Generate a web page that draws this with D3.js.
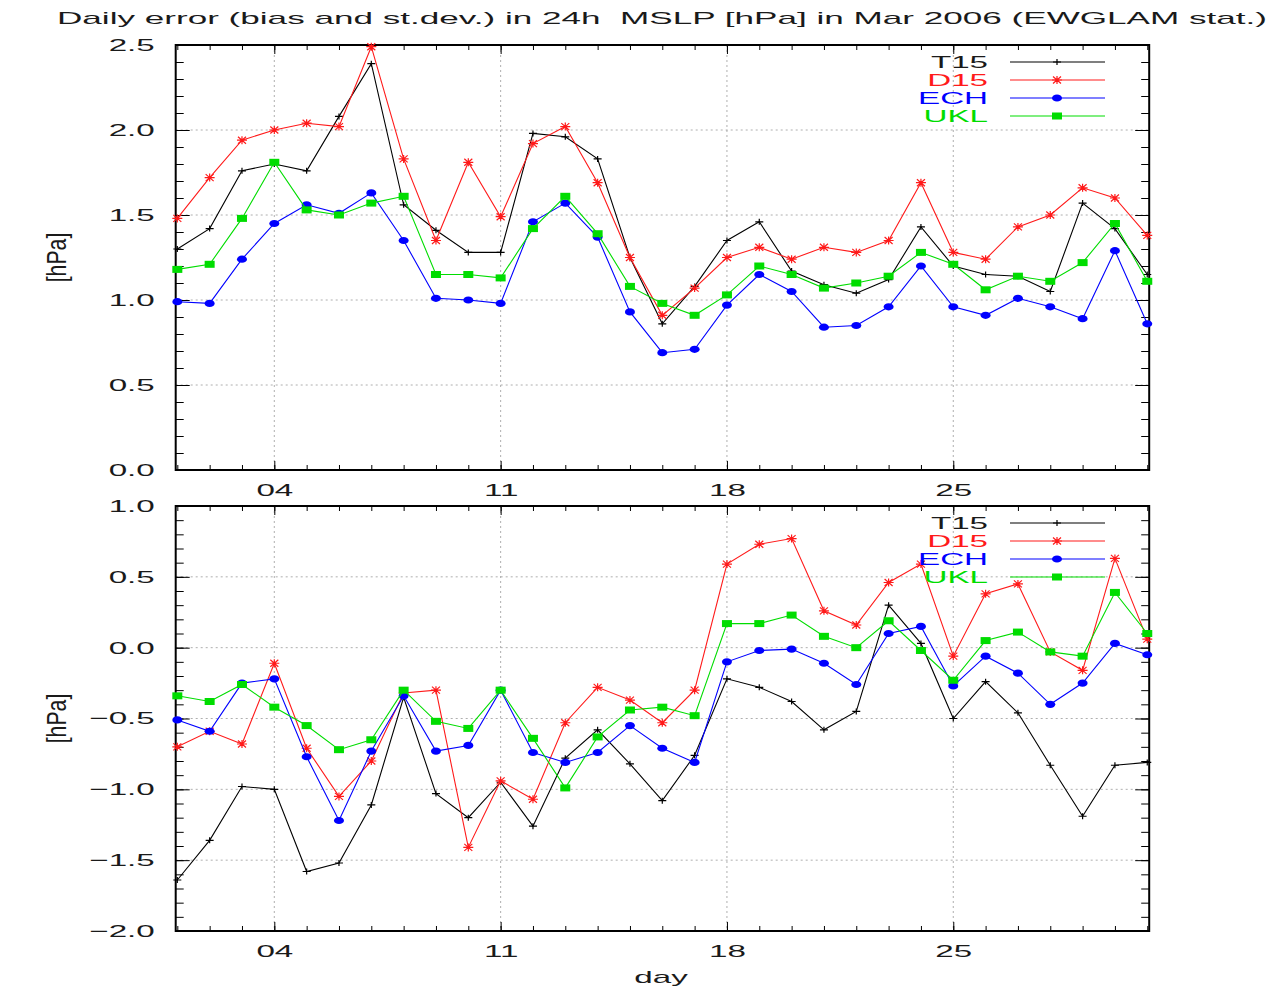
<!DOCTYPE html>
<html>
<head>
<meta charset="utf-8">
<script src="https://cdn.jsdelivr.net/npm/d3@7"></script>
<style>
  body { margin: 0; background: #fff; }
  text { font-family: "Liberation Sans", Arial, sans-serif; white-space: pre; }
</style>
</head>
<body>
<svg id="chart" width="1277" height="991"></svg>
<script>
// day of month on the x axis
const days = [1,2,3,4,5,6,7,8,9,10,11,12,13,14,15,16,17,18,19,20,21,22,23,24,25,26,27,28,29,30,31]
const labelDays = [4, 11, 18, 25]

const seriesNames = ["T15", "D15", "ECH", "UKL"]
const seriesColors = ["#000000", "#ff1a1a", "#0000ff", "#00dd00"]
const seriesMarks = ["plus", "star", "circle", "square"]

// upper panel: st.dev. [hPa]
const t15Std = [1.30,1.42,1.76,1.80,1.76,2.08,2.39,1.56,1.41,1.28,1.28,1.98,1.96,1.83,1.25,0.86,1.08,1.35,1.46,1.17,1.09,1.04,1.12,1.43,1.20,1.15,1.14,1.05,1.57,1.42,1.15]
const d15Std = [1.48,1.72,1.94,2.00,2.04,2.02,2.49,1.83,1.35,1.81,1.49,1.92,2.02,1.69,1.25,0.91,1.07,1.25,1.31,1.24,1.31,1.28,1.35,1.69,1.28,1.24,1.43,1.50,1.66,1.60,1.38]
const echStd = [0.99,0.98,1.24,1.45,1.56,1.51,1.63,1.35,1.01,1.00,0.98,1.46,1.57,1.37,0.93,0.69,0.71,0.97,1.15,1.05,0.84,0.85,0.96,1.20,0.96,0.91,1.01,0.96,0.89,1.29,0.86]
const uklStd = [1.18,1.21,1.48,1.81,1.53,1.50,1.57,1.61,1.15,1.15,1.13,1.42,1.61,1.39,1.08,0.98,0.91,1.03,1.20,1.15,1.07,1.10,1.14,1.28,1.21,1.06,1.14,1.11,1.22,1.45,1.11]

// lower panel: bias [hPa]
const t15Bias = [-1.64,-1.36,-0.98,-1.00,-1.58,-1.52,-1.11,-0.35,-1.03,-1.20,-0.95,-1.26,-0.78,-0.58,-0.82,-1.08,-0.76,-0.22,-0.28,-0.38,-0.58,-0.45,0.30,0.03,-0.50,-0.24,-0.46,-0.83,-1.19,-0.83,-0.81]
const d15Bias = [-0.70,-0.59,-0.68,-0.11,-0.71,-1.05,-0.80,-0.32,-0.30,-1.41,-0.94,-1.07,-0.53,-0.28,-0.37,-0.53,-0.30,0.59,0.73,0.77,0.26,0.16,0.46,0.59,-0.06,0.38,0.45,-0.03,-0.16,0.63,0.06]
const echBias = [-0.51,-0.59,-0.25,-0.22,-0.77,-1.22,-0.73,-0.34,-0.73,-0.69,-0.30,-0.74,-0.81,-0.74,-0.55,-0.71,-0.81,-0.10,-0.02,-0.01,-0.11,-0.26,0.10,0.15,-0.27,-0.06,-0.18,-0.40,-0.25,0.03,-0.05]
const uklBias = [-0.34,-0.38,-0.26,-0.42,-0.55,-0.72,-0.65,-0.30,-0.52,-0.57,-0.30,-0.64,-0.99,-0.63,-0.44,-0.42,-0.48,0.17,0.17,0.23,0.08,0.00,0.19,-0.02,-0.23,0.05,0.11,-0.03,-0.06,0.39,0.10]

const titleText = "Daily error (bias and st.dev.) in 24h  MSLP [hPa] in Mar 2006 (EWGLAM stat.)"

// the original picture is squashed, text comes out about twice as wide
const SX = 1.95
const FONT = 17
const TEXT_FILL = "#1a1a1a"

const svg = d3.select('#chart')

const x = d3.scaleLinear().domain([0.95, 31.06]).range([175.7, 1149.2])
const [x0, x1] = x.range()

const panels = [
  { top: 45, bottom: 470, domain: [0, 2.5], data: [t15Std, d15Std, echStd, uklStd] },
  { top: 506, bottom: 931, domain: [-2, 1], data: [t15Bias, d15Bias, echBias, uklBias] }
]

svg.append('text')
  .attr('x', 57).attr('y', 24)
  .attr('font-size', FONT)
  .attr('fill', TEXT_FILL)
  .attr('textLength', 1210)
  .attr('lengthAdjust', 'spacingAndGlyphs')
  .text(titleText)

panels.forEach(drawPanel)

svg.append('text')
  .attr('transform', `translate(661,983) scale(${SX},1)`)
  .attr('text-anchor', 'middle')
  .attr('font-size', FONT)
  .attr('fill', TEXT_FILL)
  .text('day')

function drawPanel(p) {
  const y = d3.scaleLinear().domain(p.domain).range([p.bottom, p.top])
  const majors = y.ticks(6)
  const minors = y.ticks(30)
  const g = svg.append('g')

  // dotted grid
  g.append('g').selectAll('line')
    .data(majors.filter(v => v != p.domain[0] && v != p.domain[1]))
    .join('line')
    .attr('x1', x0).attr('x2', x1)
    .attr('y1', d => y(d)).attr('y2', d => y(d))
    .attr('stroke', '#9a9a9a').attr('stroke-width', 0.8)
    .attr('stroke-dasharray', '2,3')
  g.append('g').selectAll('line')
    .data(labelDays)
    .join('line')
    .attr('x1', d => x(d)).attr('x2', d => x(d))
    .attr('y1', p.top).attr('y2', p.bottom)
    .attr('stroke', '#9a9a9a').attr('stroke-width', 0.8)
    .attr('stroke-dasharray', '2,3')

  // ticks on all four sides, pointing inward
  const noDomain = s => s.select('.domain').remove()
  g.append('g').attr('transform', `translate(${x0},0)`)
    .call(d3.axisLeft(y).tickValues(minors).tickSize(-8).tickFormat('')).call(noDomain)
  g.append('g').attr('transform', `translate(${x1},0)`)
    .call(d3.axisRight(y).tickValues(minors).tickSize(-8).tickFormat('')).call(noDomain)
  g.append('g').attr('transform', `translate(${x1},0)`)
    .call(d3.axisRight(y).tickValues(majors).tickSize(-14).tickFormat('')).call(noDomain)
  g.append('g').attr('transform', `translate(0,${p.top})`)
    .call(d3.axisTop(x).tickValues(days).tickSize(-5).tickFormat('')).call(noDomain)
  g.append('g').attr('transform', `translate(0,${p.top})`)
    .call(d3.axisTop(x).tickValues(labelDays).tickSize(-9).tickFormat('')).call(noDomain)
  g.append('g').attr('transform', `translate(0,${p.bottom})`)
    .call(d3.axisBottom(x).tickValues(days).tickSize(-5).tickFormat('')).call(noDomain)

  const yAxis = g.append('g').attr('transform', `translate(${x0},0)`)
    .call(d3.axisLeft(y).tickValues(majors).tickSize(-14).tickPadding(0).tickFormat(d3.format('.1f')))
    .call(noDomain)
  yAxis.attr('font-size', FONT).attr('font-family', null)
  yAxis.selectAll('.tick text')
    .attr('x', -21 / SX)
    .attr('fill', TEXT_FILL)
    .attr('transform', `scale(${SX},1)`)

  const xAxis = g.append('g').attr('transform', `translate(0,${p.bottom})`)
    .call(d3.axisBottom(x).tickValues(labelDays).tickSize(-9).tickPadding(14).tickFormat(d3.format('02d')))
    .call(noDomain)
  xAxis.attr('font-size', FONT).attr('font-family', null)
  xAxis.selectAll('.tick text')
    .attr('fill', TEXT_FILL)
    .attr('transform', `scale(${SX},1)`)

  // frame
  g.append('rect')
    .attr('x', x0).attr('y', p.top)
    .attr('width', x1 - x0).attr('height', p.bottom - p.top)
    .attr('fill', 'none').attr('stroke', '#000').attr('stroke-width', 2)

  // y label
  g.append('text')
    .attr('transform', `translate(66,${(p.top + p.bottom) / 2}) scale(1.6,1.25) rotate(-90)`)
    .attr('text-anchor', 'middle')
    .attr('font-size', FONT)
    .attr('fill', TEXT_FILL)
    .text('[hPa]')

  // series
  const line = d3.line().x((d, i) => x(days[i])).y(d => y(d))
  p.data.forEach((values, k) => {
    const color = seriesColors[k]
    g.append('path')
      .attr('d', line(values))
      .attr('fill', 'none')
      .attr('stroke', color)
      .attr('stroke-width', 1.1)
    g.append('g').selectAll('g')
      .data(values)
      .join('g')
      .attr('transform', (d, i) => `translate(${x(days[i])},${y(d)})`)
      .each(function () { drawMark(d3.select(this), seriesMarks[k], color) })
  })

  // legend
  seriesNames.forEach((name, k) => {
    const ly = p.top + 17 + 18 * k
    g.append('text')
      .attr('transform', `translate(988,${ly + 6}) scale(${SX},1)`)
      .attr('text-anchor', 'end')
      .attr('font-size', FONT)
      .attr('fill', k == 0 ? TEXT_FILL : seriesColors[k])
      .text(name)
    g.append('line')
      .attr('x1', 1010).attr('x2', 1105)
      .attr('y1', ly).attr('y2', ly)
      .attr('stroke', seriesColors[k]).attr('stroke-width', 1.1)
    const m = g.append('g').attr('transform', `translate(1057,${ly})`)
    drawMark(m, seriesMarks[k], seriesColors[k])
  })
}

function drawMark(sel, kind, color) {
  if (kind == 'plus') {
    sel.append('path').attr('d', 'M-4,0H4M0,-3V3')
      .attr('stroke', color).attr('stroke-width', 1.2).attr('fill', 'none')
  } else if (kind == 'star') {
    sel.append('path').attr('d', 'M-5,0H5M0,-4V4M-4,-3.5L4,3.5M-4,3.5L4,-3.5')
      .attr('stroke', color).attr('stroke-width', 1.2).attr('fill', 'none')
  } else if (kind == 'circle') {
    sel.append('ellipse').attr('rx', 5).attr('ry', 3.6).attr('fill', color)
  } else {
    sel.append('rect').attr('x', -5).attr('y', -3.5)
      .attr('width', 10).attr('height', 7).attr('fill', color)
  }
}
</script>
</body>
</html>
